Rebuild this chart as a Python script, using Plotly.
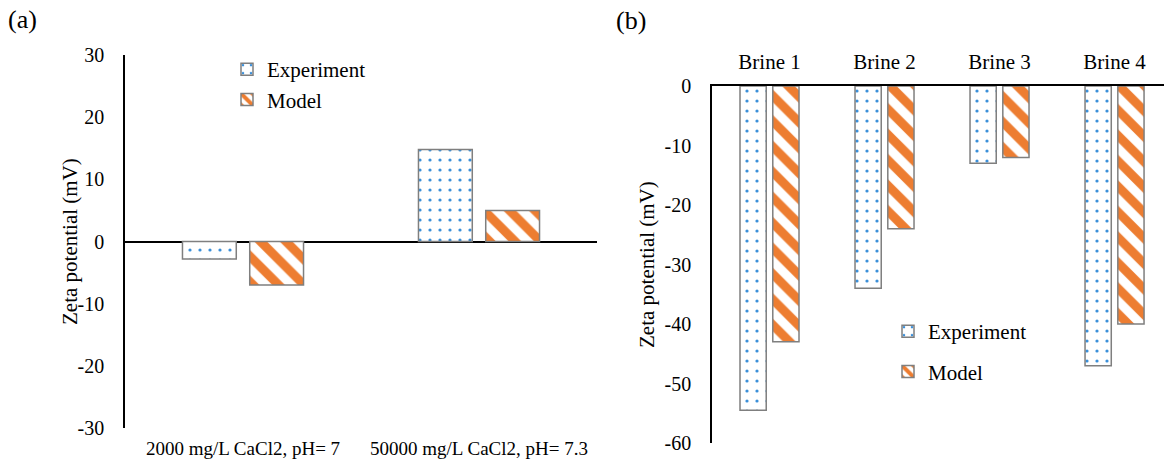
import plotly.graph_objects as go

W, H = 1164, 463

# ---- data ----
cats_a = ["2000 mg/L CaCl2, pH= 7", "50000 mg/L CaCl2, pH= 7.3"]
exp_a = [-2.8, 14.8]
model_a = [-7.0, 5.0]

cats_b = ["Brine 1", "Brine 2", "Brine 3", "Brine 4"]
exp_b = [-54.5, -34.0, -13.0, -47.0]
model_b = [-43.0, -24.0, -12.0, -40.0]

ticks_a = [30, 20, 10, 0, -10, -20, -30]
ticks_b = [0, -10, -20, -30, -40, -50, -60]

# ---- styles ----
SERIF = "Liberation Serif, Times New Roman, serif"
BLUE = "#3A8FD9"
ORANGE = "#ED7D31"
EDGE = "#7F7F7F"


def px_x(p):
    return p / W


def px_y(p):
    return 1 - p / H


exp_marker = dict(color="white", line=dict(color=EDGE, width=1.5),
                  pattern=dict(shape=".", fgcolor=BLUE, bgcolor="white",
                               size=10, solidity=0.08, fillmode="replace"))
mod_marker = dict(color="white", line=dict(color=EDGE, width=1.5),
                  pattern=dict(shape="\\", fgcolor=ORANGE, bgcolor="white",
                               size=18, solidity=0.5, fillmode="replace"))

fig = go.Figure()
fig.add_trace(go.Bar(x=cats_a, y=exp_a, name="Experiment", marker=exp_marker,
                     xaxis="x", yaxis="y", legend="legend"))
fig.add_trace(go.Bar(x=cats_a, y=model_a, name="Model", marker=mod_marker,
                     xaxis="x", yaxis="y", legend="legend"))
fig.add_trace(go.Bar(x=cats_b, y=exp_b, name="Experiment", marker=exp_marker,
                     xaxis="x2", yaxis="y2", legend="legend2", legendgroup="be"))
fig.add_trace(go.Bar(x=cats_b, y=model_b, name="Model", marker=mod_marker,
                     xaxis="x2", yaxis="y2", legend="legend2", legendgroup="bm"))

tickfont = dict(family=SERIF, size=20, color="black")


def hyphen(vals):
    return [str(v) for v in vals]


fig.update_layout(
    width=W, height=H,
    margin=dict(l=0, r=0, t=0, b=0, autoexpand=False),
    paper_bgcolor="white", plot_bgcolor="white",
    barmode="group", bargap=0.43, bargroupgap=0.2,
    font=dict(family=SERIF, color="black"),
    xaxis=dict(domain=[px_x(125), px_x(597)], anchor="y", automargin=False,
               range=[-0.5, 1.5], showline=False, showgrid=False,
               zeroline=False, ticks="", ticklabelstandoff=7,
               tickfont=dict(family=SERIF, size=19, color="black")),
    yaxis=dict(domain=[px_y(428), px_y(55)], anchor="x", automargin=False,
               range=[-30, 30], tickvals=ticks_a, ticktext=hyphen(ticks_a),
               showgrid=False,
               showline=True, linecolor="black", linewidth=1.5,
               zeroline=True, zerolinecolor="black", zerolinewidth=1.5,
               ticks="", ticklabelstandoff=15, tickfont=tickfont),
    xaxis2=dict(domain=[px_x(712), 1.0], anchor="y2", side="top",
                automargin=False,
                range=[-0.5, 3.43], showline=True, linecolor="black",
                linewidth=1.5, showgrid=False, zeroline=False, ticks="",
                ticklabelstandoff=7,
                tickfont=dict(family=SERIF, size=21, color="black")),
    yaxis2=dict(domain=[px_y(443), px_y(86)], anchor="x2", automargin=False,
                range=[-60, 0], tickvals=ticks_b, ticktext=hyphen(ticks_b),
                showgrid=False,
                showline=True, linecolor="black", linewidth=1.5,
                zeroline=False, ticks="", ticklabelstandoff=15,
                tickfont=tickfont),
    legend=dict(x=px_x(227), y=px_y(49), xanchor="left", yanchor="top",
                bgcolor="rgba(0,0,0,0)", font=dict(family=SERIF, size=21),
                traceorder="normal", itemwidth=30),
    legend2=dict(x=px_x(888), y=px_y(311), xanchor="left", yanchor="top",
                 bgcolor="rgba(0,0,0,0)", font=dict(family=SERIF, size=21),
                 traceorder="grouped", tracegroupgap=10, itemwidth=30),
)

annotations = [
    dict(text="(a)", x=px_x(6), y=px_y(19), xanchor="left", yanchor="middle",
         showarrow=False, font=dict(family=SERIF, size=26)),
    dict(text="(b)", x=px_x(614), y=px_y(20), xanchor="left", yanchor="middle",
         showarrow=False, font=dict(family=SERIF, size=26)),
    dict(text="Zeta potential (mV)", x=px_x(70), y=px_y(242), textangle=-90,
         xanchor="center", yanchor="middle", showarrow=False,
         font=dict(family=SERIF, size=21)),
    dict(text="Zeta potential (mV)", x=px_x(647), y=px_y(265), textangle=-90,
         xanchor="center", yanchor="middle", showarrow=False,
         font=dict(family=SERIF, size=21)),
]
for a in annotations:
    a["xref"] = "paper"
    a["yref"] = "paper"
fig.update_layout(annotations=annotations)

fig.write_html("out.html")
